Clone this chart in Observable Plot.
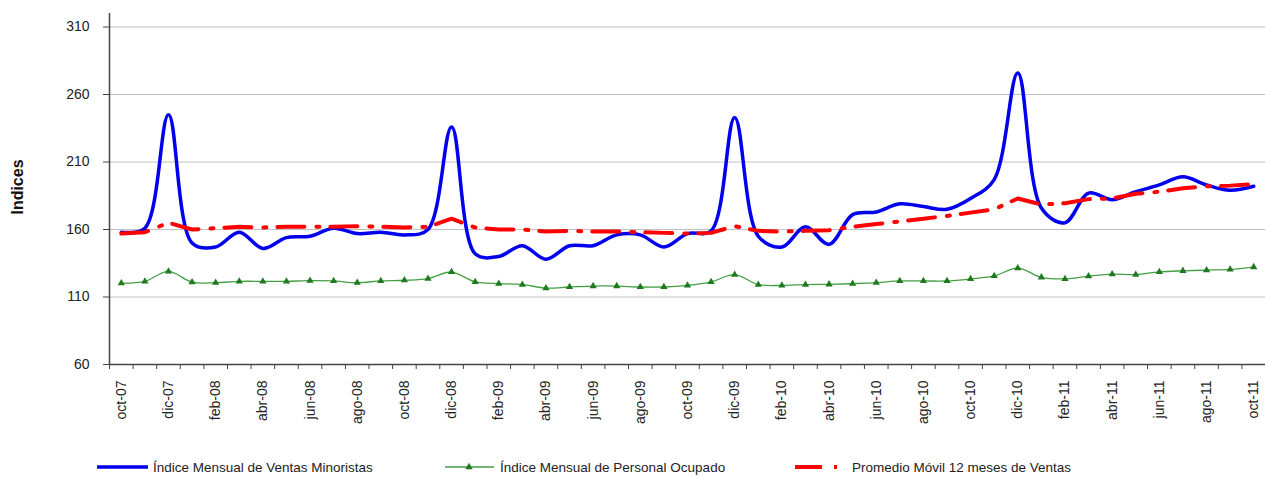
<!DOCTYPE html>
<html><head><meta charset="utf-8">
<script src="https://cdn.jsdelivr.net/npm/d3@7"></script>
<script src="https://cdn.jsdelivr.net/npm/@observablehq/plot@0.6"></script>
<style>
body{margin:0;background:#fff;font-family:"Liberation Sans",Arial,sans-serif;}
#legend{position:relative;width:1265px;height:32px;}
</style></head><body>
<div id="chart"></div>
<div id="legend"></div>
<script>
const months = ["oct-07","nov-07","dic-07","ene-08","feb-08","mar-08","abr-08","may-08","jun-08","jul-08","ago-08","sep-08",
"oct-08","nov-08","dic-08","ene-09","feb-09","mar-09","abr-09","may-09","jun-09","jul-09","ago-09","sep-09",
"oct-09","nov-09","dic-09","ene-10","feb-10","mar-10","abr-10","may-10","jun-10","jul-10","ago-10","sep-10",
"oct-10","nov-10","dic-10","ene-11","feb-11","mar-11","abr-11","may-11","jun-11","jul-11","ago-11","sep-11","oct-11"];

const ventas = [158,161,245,150,147,158,146,154,155,161,157,158,156,160,236,142,140,148,138,148,148,156,156,147,157,159,243,155,147,162,149,171,173,179,177,175,183,197,276,176,165,187,182,188,193,199,193,189,192];

const personal = [120.3,121.6,129,121,120.6,121.6,121.6,121.6,122.1,121.9,120.6,121.9,122.4,123.6,128.5,121.2,119.9,119.2,116.6,117.4,118.1,118.1,117.4,117.4,118.6,121.2,126.5,119.2,118.6,119.2,119.4,119.9,120.6,121.9,121.9,121.9,123.4,125.6,131.4,124.6,123.4,125.4,126.9,126.6,128.6,129.4,129.9,130.4,132.2];

const promedio = [157,158,165,160,161,162,161.5,162,162,162,162.5,162,161.5,162,168,161.5,160,160,158.5,159,158.5,158.5,158,157.5,157,157.5,162.5,159,158.5,159,159.5,162,164,166,168,170,172.5,175,183,178.5,179.5,182.5,183,186.5,188,190.5,192,192.5,193.5];

const yTicks = [60,110,160,210,260,310];

const seriesNames = ["Índice Mensual de Ventas Minoristas","Índice Mensual de Personal Ocupado","Promedio Móvil 12 meses de Ventas"];

const rows = months.map((m,i)=>({i, m, ventas: ventas[i], personal: personal[i], promedio: promedio[i]}));

const BLUE="#0000ee", GREEN="#449e44", GREEN_DK="#1f7a1f", RED="#ff0000";
const DASH="27,12,3,11";

const chart = Plot.plot({
  width:1265, height:445,
  marginLeft:109, marginRight:0, marginTop:13, marginBottom:81,
  x:{type:"linear", domain:[-0.5, months.length-0.5]},
  y:{domain:[60,320]},
  style:{fontFamily:"'Liberation Sans', Arial, sans-serif", fontSize:"14px", color:"#222", background:"#fff"},
  marks:[
    Plot.gridY(yTicks.slice(1), {stroke:"#c0c0c0", strokeOpacity:1}),
    Plot.axisY({ticks:yTicks, tickSize:6, tickPadding:14, label:null, stroke:"#444", fontSize:14}),
    Plot.axisX({ticks:d3.range(months.length+1).map(i=>i-0.5), tickFormat:()=>"", tickSize:5, label:null, stroke:"#444"}),
    Plot.axisX({ticks:d3.range(0,months.length,2), tickFormat:i=>months[i], tickRotate:-90, tickSize:0, tickPadding:16, label:null, fontSize:14}),
    Plot.ruleX([-0.5], {stroke:"#444", strokeWidth:1.5}),
    Plot.ruleY([60], {stroke:"#444", strokeWidth:1.5}),
    Plot.line(rows, {x:"i", y:"personal", stroke:GREEN, strokeWidth:1.3, curve:"catmull-rom"}),
    Plot.dot(rows, {x:"i", y:"personal", symbol:"triangle", r:2.7, fill:GREEN_DK, stroke:"none"}),
    Plot.line(rows, {x:"i", y:"ventas", stroke:BLUE, strokeWidth:3.5, curve:"catmull-rom"}),
    Plot.line(rows, {x:"i", y:"promedio", stroke:RED, strokeWidth:4, strokeDasharray:DASH}),
    Plot.text(["Indices"], {frameAnchor:"left", textAnchor:"middle", dx:-92, dy:-2, rotate:-90, fontWeight:"bold", fontSize:16, fill:"#111"})
  ]
});
document.getElementById("chart").append(chart);

// legend
const lg = d3.select("#legend").append("svg").attr("width",1265).attr("height",32)
  .style("font-family","'Liberation Sans', Arial, sans-serif").style("font-size","13.5px");
const cy = 22;
// blue
lg.append("line").attr("x1",97).attr("x2",148).attr("y1",cy).attr("y2",cy).attr("stroke",BLUE).attr("stroke-width",3.5);
lg.append("text").attr("x",153).attr("y",cy).attr("dy","0.35em").attr("fill","#222").text(seriesNames[0]);
// green
lg.append("line").attr("x1",445).attr("x2",494).attr("y1",cy).attr("y2",cy).attr("stroke",GREEN).attr("stroke-width",1.3);
lg.append("path").attr("d",d3.symbol(d3.symbolTriangle, 24)()).attr("transform",`translate(469,${cy})`).attr("fill",GREEN_DK);
lg.append("text").attr("x",500).attr("y",cy).attr("dy","0.35em").attr("fill","#222").text(seriesNames[1]);
// red
lg.append("line").attr("x1",795).attr("x2",837).attr("y1",cy).attr("y2",cy).attr("stroke",RED).attr("stroke-width",4).attr("stroke-dasharray",DASH);
lg.append("text").attr("x",852).attr("y",cy).attr("dy","0.35em").attr("fill","#222").text(seriesNames[2]);
</script></body></html>
